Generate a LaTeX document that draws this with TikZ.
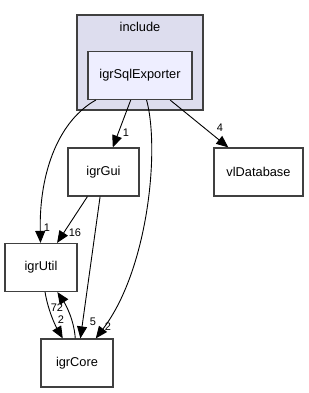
\documentclass[tikz,border=0pt]{standalone}
\usepackage{fontspec}
\setmainfont{Liberation Sans}
\usetikzlibrary{arrows.meta}

\definecolor{dirfill}{HTML}{DDDDEE}
\definecolor{subfill}{HTML}{EEEEFF}
\definecolor{boxline}{HTML}{404040}

\tikzset{
  dirbox/.style={draw=boxline, line width=1.2pt, fill=white, inner sep=0pt,
    minimum height=48pt, font=\fontsize{12.8}{15}\selectfont},
  deplabel/.style={inner sep=0pt, font=\fontsize{11}{13}\selectfont}
}

\begin{document}
\begin{tikzpicture}[x=1pt, y=-1pt, >={Triangle[length=12pt,width=10pt]}, line width=0.9pt]
\useasboundingbox (0,0) rectangle (308,393);

% Enclosing directory
\draw[draw=boxline, fill=dirfill, line width=1.2pt] (77,15) rectangle (203,110);
\node[font=\fontsize{12.8}{15}\selectfont] (incl) at (140,27) {include};

% Directories
\node[dirbox, fill=subfill, minimum width=104pt] (exp) at (140,75.5) {igrSqlExporter};
\node[dirbox, minimum width=71pt] (gui) at (103.5,172) {igrGui};
\node[dirbox, minimum width=89pt] (vl) at (258.5,172) {vlDatabase};
\node[dirbox, minimum width=72pt] (util) at (41,267.5) {igrUtil};
\node[dirbox, minimum width=72pt] (core) at (77,363) {igrCore};

% Dependencies
\draw[->] (exp) .. controls (60,120) and (39,170) .. (util);
\draw[->] (exp) -- (gui);
\draw[->] (exp) -- (vl);
\draw[->] (exp) .. controls (160,150) and (148,270) .. (core);
\draw[->] (gui) -- (util);
\draw[->] (gui) -- (core);
\draw[->] (util) .. controls (48,310) and (55,325) .. (core);
\draw[->] (core) .. controls (74,320) and (66,305) .. (util);

% Dependency counts
\foreach \name/\x/\y/\lab in {c1/47/228/1, c2/126/133/1, c3/220/128/4, c4/75/233/16,
    c5/93/322/5, c6/108/327/2, c7/57/308/72, c8/61/320/2}
  \node[deplabel] (\name) at (\x,\y) {\lab};

\end{tikzpicture}
\end{document}
